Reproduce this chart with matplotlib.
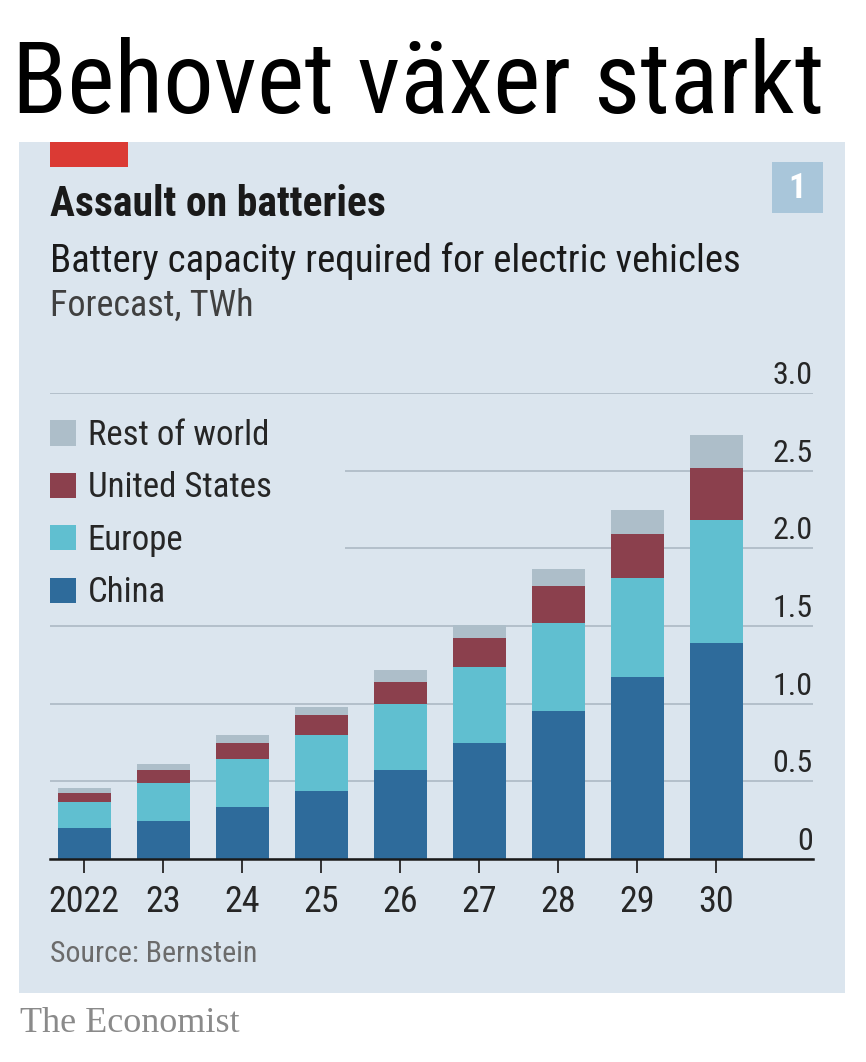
import matplotlib
matplotlib.use('Agg')
import matplotlib.pyplot as plt
import matplotlib.transforms as mtrans
from matplotlib.patches import Rectangle
import numpy as np

# ---------------- data ----------------
years = ['2022', '23', '24', '25', '26', '27', '28', '29', '30']
china = [0.20, 0.245, 0.335, 0.44, 0.575, 0.75, 0.955, 1.17, 1.39]
europe = [0.165, 0.245, 0.31, 0.36, 0.42, 0.485, 0.565, 0.64, 0.795]
united_states = [0.06, 0.08, 0.105, 0.125, 0.145, 0.19, 0.235, 0.285, 0.335]
rest_of_world = [0.03, 0.04, 0.05, 0.055, 0.075, 0.08, 0.115, 0.15, 0.21]
series_names = ['China', 'Europe', 'United States', 'Rest of world']
y_ticks = [0, 0.5, 1.0, 1.5, 2.0, 2.5, 3.0]
y_tick_labels = ['0', '0.5', '1.0', '1.5', '2.0', '2.5', '3.0']

# ---------------- style ----------------
W, H = 866, 1062
BG = '#dbe5ee'
GRID = '#a9b6c1'
COLORS = ['#2e6b9b', '#60bfd0', '#8b404d', '#adbec9']
SANS = ['Roboto Condensed', 'Open Sans Condensed', 'DejaVu Sans']
SERIF = ['Liberation Serif', 'DejaVu Serif']
plt.rcParams['font.family'] = SANS
plt.rcParams['font.stretch'] = 'condensed'


def fx(p):
    return p / W


def fy(p):
    return 1 - p / H


fig = plt.figure(figsize=(W / 100, H / 100), dpi=100)
fig.patch.set_facecolor('white')

# panel background
fig.add_artist(Rectangle((fx(19), fy(993)), fx(845) - fx(19), fy(142) - fy(993),
                         transform=fig.transFigure, facecolor=BG, edgecolor='none', zorder=-5))
# red tag
fig.add_artist(Rectangle((fx(50), fy(167.3)), fx(128) - fx(50), fy(142) - fy(167.3),
                         transform=fig.transFigure, facecolor='#db3a34', edgecolor='none', zorder=-4))
# chart number box
fig.add_artist(Rectangle((fx(771.7), fy(212.7)), fx(823) - fx(771.7), fy(161.7) - fy(212.7),
                         transform=fig.transFigure, facecolor='#a9c6da', edgecolor='none', zorder=-4))
fig.text(fx(797.3), fy(188), '1', color='white', fontsize=25, weight='bold',
         ha='center', va='center')

# titles
title = fig.text(fx(12), fy(113), 'Behovet växer starkt', fontsize=78, color='black',
                 ha='left', va='baseline')
head = fig.text(fx(50), fy(216), 'Assault on batteries', fontsize=30, weight='bold',
                color='#1a1a1a', ha='left', va='baseline')
sub = fig.text(fx(50), fy(271.5), 'Battery capacity required for electric vehicles',
               fontsize=27, color='#1a1a1a', ha='left', va='baseline')
unit = fig.text(fx(50), fy(316), 'Forecast, TWh', fontsize=26, color='#404040',
                ha='left', va='baseline')
src = fig.text(fx(50), fy(962), 'Source: Bernstein', fontsize=21.5, color='#6b6b6b',
               ha='left', va='baseline')
fig.text(fx(20), fy(1032.5), 'The Economist', fontsize=26, family=SERIF,
         color='#8a8a8a', ha='left', va='baseline')

# ---------------- axes ----------------
ax = fig.add_axes([fx(50), fy(859), fx(813) - fx(50), fy(393) - fy(859)])
ax.set_zorder(1)
ax.set_facecolor('none')

x = np.arange(len(years))
bottom = np.zeros(len(years))
containers = []
for vals, col, name in zip([china, europe, united_states, rest_of_world], COLORS, series_names):
    c = ax.bar(x, vals, width=0.67, bottom=bottom, color=col, label=name,
               linewidth=0, zorder=2)
    containers.append(c)
    bottom = bottom + np.array(vals)

ax.set_xlim(-0.434, len(years) - 1 + 1.224)
ax.set_ylim(0, 3.0)

ax.set_yticks(y_ticks)
ax.tick_params(axis='y', length=0, labelleft=False, labelright=False)
ax.yaxis.grid(True, color=GRID, linewidth=1.1)
ax.set_axisbelow(True)

for s in ['left', 'right', 'top']:
    ax.spines[s].set_visible(False)
ax.spines['bottom'].set_color('#1a1a1a')
ax.spines['bottom'].set_linewidth(1.8)
ax.spines['bottom'].set_zorder(3)

ax.set_xticks(x)
ax.set_xticklabels(years, fontsize=26, color='#262626')
ax.tick_params(axis='x', length=10, width=1.4, color='#333333', pad=8)

for v, lab in zip(y_ticks, y_tick_labels):
    ax.annotate(lab, xy=(1, v), xycoords=('axes fraction', 'data'),
                xytext=(0, 6.5), textcoords='offset points',
                ha='right', va='baseline', fontsize=23, color='#262626')

# mask gridlines behind legend
blend = mtrans.blended_transform_factory(ax.transAxes, ax.transData)
ax.add_patch(Rectangle((0, 1.75), 0.387, 1.0, transform=blend,
                       facecolor=BG, edgecolor='none', zorder=0.8))

leg = ax.legend(containers[::-1], series_names[::-1], loc='upper left',
                bbox_to_anchor=(fx(50), fy(419)), bbox_transform=fig.transFigure,
                frameon=False, prop={'size': 25},
                handlelength=0.75, handleheight=0.75, handletextpad=0.33,
                labelspacing=0.56, borderpad=0, borderaxespad=0)
for t in leg.get_texts():
    t.set_color('#262626')

# fit texts to the reference widths
fig.canvas.draw()
renderer = fig.canvas.get_renderer()
for t, target in [(title, 813), (sub, 690)]:
    w = t.get_window_extent(renderer).width
    t.set_fontsize(t.get_fontsize() * target / w)

fig.savefig('out.png', dpi=100, facecolor='white')
